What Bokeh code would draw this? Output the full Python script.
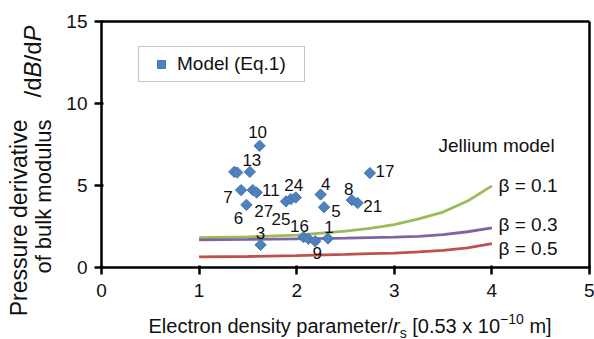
import math
from bokeh.plotting import figure
from bokeh.models import Range1d, Label, Legend, LegendItem, ColumnDataSource, LinearAxis, FixedTicker
from bokeh.core.properties import value
from bokeh.embed import file_html
from bokeh.resources import INLINE

# ---------------- data ----------------
point_x = [1.62, 1.36, 1.39, 1.52, 1.43, 1.55, 1.59, 1.485, 1.63, 1.89, 1.94, 1.99,
           2.245, 2.28, 2.565, 2.625, 2.75, 2.07, 2.12, 2.19, 2.32]
point_y = [7.42, 5.83, 5.79, 5.83, 4.72, 4.72, 4.57, 3.82, 1.38, 4.03, 4.17, 4.27,
           4.45, 3.68, 4.11, 3.93, 5.76, 1.85, 1.75, 1.60, 1.77]
point_label = ["10", "", "", "13", "7", "11", "27", "6", "3", "25", "", "24",
               "4", "5", "8", "21", "17", "16", "", "9", "1"]

jellium_x = [1.0, 1.5, 2.0, 2.5, 2.75, 3.0, 3.25, 3.5, 3.75, 4.0]
beta_01 = [1.82, 1.87, 1.98, 2.22, 2.38, 2.62, 2.96, 3.38, 4.05, 4.98]
beta_03 = [1.68, 1.71, 1.75, 1.79, 1.82, 1.85, 1.90, 2.00, 2.18, 2.42]
beta_05 = [0.65, 0.67, 0.73, 0.80, 0.84, 0.88, 0.95, 1.04, 1.20, 1.46]
beta_names = ["β = 0.1", "β = 0.3", "β = 0.5"]

x_ticks = [0, 1, 2, 3, 4, 5]
y_ticks = [0, 5, 10, 15]
X0, X1, Y0, Y1 = 0, 5, 0, 15

# ---------------- style ----------------
label_dx = [-2, 0, 0, 2, -13, 18, 7, -8, 0, -5, 0, -2, 5, 12, -3, 15, 15, -4, 0, 2, 1]
label_dy = [-14, 0, 0, -12, 7, 0, 18, 13, -12, 18, 0, -12, -11, 4, -11, 3, -2, -11, 0, 12, -11]

FONT = "Liberation Sans"
W, H = 594, 339
FL, FR, FT, FB = 101, 589, 21, 267  # plot-box edges in px

ppx = (FR - FL) / (X1 - X0)
ppy = (FB - FT) / (Y1 - Y0)
xr = Range1d(X0 - FL / ppx, X1 + (W - FR) / ppx)
yr = Range1d(Y0 - (H - FB) / ppy, Y1 + FT / ppy)


def dxp(px):
    return X0 + (px - FL) / ppx


def dyp(py):
    return Y0 + (FB - py) / ppy


ARIAL = {'E': 667, 'l': 222, 'e': 556, 'c': 500, 't': 278, 'r': 333, 'o': 556, 'n': 556,
         ' ': 278, 'd': 556, 's': 500, 'i': 222, 'y': 500, 'p': 556, 'a': 556, 'm': 833,
         '/': 278, '[': 278, ']': 278, '0': 556, '.': 278, '5': 556, '3': 556, 'x': 500,
         '1': 556, '−': 584, 'B': 667, 'P': 667}


def tw(s, size):
    return sum(ARIAL.get(c, 556) for c in s) / 1000.0 * size


p = figure(width=W, height=H, x_range=xr, y_range=yr,
           x_axis_type=None, y_axis_type=None,
           output_backend="svg", toolbar_location=None, min_border=0)
p.background_fill_color = "white"
p.border_fill_color = "white"
p.outline_line_color = None
p.xgrid.visible = False
p.ygrid.visible = False


def style_axis(ax, ticks):
    ax.axis_line_width = 2.5
    ax.axis_line_color = "black"
    ax.major_tick_line_width = 2.5
    ax.major_tick_line_color = "black"
    ax.major_tick_in = 2
    ax.major_tick_out = 7
    ax.minor_tick_line_color = None
    ax.major_label_text_font = FONT
    ax.major_label_text_font_size = "19px"
    ax.major_label_text_color = "#111111"
    ax.ticker = FixedTicker(ticks=ticks)


xaxis = LinearAxis(fixed_location=Y0, bounds=(X0, X1))
style_axis(xaxis, x_ticks)
xaxis.major_label_standoff = 9
p.add_layout(xaxis, "below")

yaxis = LinearAxis(fixed_location=X0, bounds=(Y0, Y1))
style_axis(yaxis, y_ticks)
yaxis.major_label_standoff = 7
p.add_layout(yaxis, "left")

top = LinearAxis(fixed_location=Y1, bounds=(X0, X1))
style_axis(top, [])
top.major_label_text_font_size = "0px"
top.major_tick_line_color = None
p.add_layout(top, "above")

right = LinearAxis(fixed_location=X1, bounds=(Y0, Y1))
style_axis(right, [])
right.major_label_text_font_size = "0px"
right.major_tick_line_color = None
p.add_layout(right, "right")

# jellium curves
colors = ["#9BBB59", "#8064A2", "#C0504D"]
for ys, c in zip([beta_01, beta_03, beta_05], colors):
    p.line(jellium_x, ys, line_color=c, line_width=2.8)

# model points
src = ColumnDataSource(dict(x=point_x, y=point_y, label=point_label,
                            dx=label_dx, dy=label_dy))
r = p.scatter("x", "y", source=src, marker="square", angle=math.pi / 4, size=8,
              fill_color="#4F81BD", line_color="#4577B3", line_width=1)
p.text("x", "y", text="label", source=src, x_offset="dx", y_offset="dy",
       text_align="center", text_baseline="middle", text_font_size="17px",
       text_font=value(FONT), text_color="#111111")

legend = Legend(items=[LegendItem(label="Model (Eq.1)", renderers=[r])],
                location=(138, H - 47 - 35))
legend.border_line_color = "#8c8c8c"
legend.border_line_width = 1.5
legend.padding = 6
legend.margin = 0
legend.spacing = 0
legend.glyph_width = 32
legend.glyph_height = 20
legend.label_standoff = 0
legend.label_width = 121
legend.label_text_font = FONT
legend.label_text_font_size = "19px"
legend.label_text_color = "#111111"
legend.background_fill_alpha = 1.0
p.add_layout(legend)

# annotations: jellium
p.add_layout(Label(x=dxp(438), y=dyp(145), text="Jellium model", text_font=FONT,
                   text_font_size="19px", text_baseline="middle", text_align="left",
                   text_color="#111111"))
beta_label_py = [185, 224, 248]
for name, py in zip(beta_names, beta_label_py):
    p.add_layout(Label(x=dxp(498), y=dyp(py), text=name, text_font=FONT,
                       text_font_size="19px", text_baseline="middle", text_align="left",
                       text_color="#111111"))

# x-axis title (rich text pieces; leading spaces are turned into offsets)
XT_MID = 325
xt_pieces = [("Electron density parameter/", 20, "normal", 0),
             ("r", 20, "italic", 0),
             ("s", 14, "normal", 7),
             (" [0.53 x 10", 20, "normal", 0),
             ("−10", 14, "normal", -7),
             (" m]", 20, "normal", 0)]
cx = 148
for txt, fs, style, shift in xt_pieces:
    lead = len(txt) - len(txt.lstrip(" "))
    cx += tw(" " * lead, fs)
    body = txt.lstrip(" ")
    p.add_layout(Label(x=dxp(cx), y=dyp(XT_MID + shift), text=body, text_font=FONT,
                       text_font_size=f"{fs}px", text_font_style=style,
                       text_align="left", text_baseline="middle",
                       text_color="#111111"))
    cx += tw(body, fs)

# y-axis title
p.add_layout(Label(x=dxp(18), y=dyp(119), text="Pressure derivative", angle=math.pi / 2,
                   text_font=FONT, text_font_size="23px", text_align="right",
                   text_baseline="middle", text_color="#111111"))
p.add_layout(Label(x=dxp(43), y=dyp(119), text="of bulk modulus", angle=math.pi / 2,
                   text_font=FONT, text_font_size="22px", text_align="right",
                   text_baseline="middle", text_color="#111111"))
cy = 97
for txt, style in [("/d", "normal"), ("B", "italic"), ("/d", "normal"), ("P", "italic")]:
    p.add_layout(Label(x=dxp(32), y=dyp(cy), text=txt, angle=math.pi / 2,
                       text_font=FONT, text_font_size="24px", text_font_style=style,
                       text_align="left", text_baseline="middle", text_color="#111111"))
    cy -= tw(txt, 24)

open("out.html", "w").write(file_html(p, INLINE))
